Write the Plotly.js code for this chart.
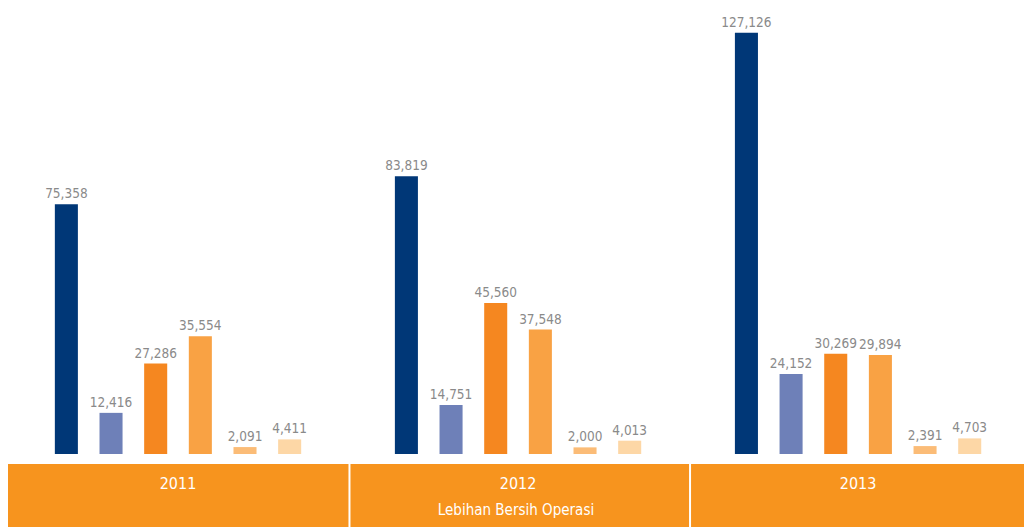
<!DOCTYPE html>
<html>
<head>
<meta charset="utf-8">
<script src="https://cdn.plot.ly/plotly-3.0.1.min.js"></script>
<style>html,body{margin:0;padding:0;background:#fff;}#chart{width:1024px;height:527px;}</style>
</head>
<body>
<div id="chart"></div>
<script>
const years = ['2011', '2012', '2013'];
const series1 = [75358, 83819, 127126];
const series2 = [12416, 14751, 24152];
const series3 = [27286, 45560, 30269];
const series4 = [35554, 37548, 29894];
const series5 = [2091, 2000, 2391];
const series6 = [4411, 4013, 4703];
const axisTitle = 'Lebihan Bersih Operasi';

const colors = ['#003777', '#6e80b8', '#f58720', '#f9a244', '#fbbc77', '#fdd7a6'];
const allSeries = [series1, series2, series3, series4, series5, series6];
const FAM = '"DejaVu Sans Condensed", "Roboto", sans-serif';
const labelFont = {family: FAM, size: 13.5, color: '#8a8a8a'};

const traces = allSeries.map((vals, i) => ({
  type: 'bar',
  x: years,
  y: vals,
  marker: {color: colors[i], line: {width: 0}},
  text: vals.map(v => v.toLocaleString('en-US')),
  textposition: 'outside',
  constraintext: 'none',
  cliponaxis: false,
  textfont: labelFont,
  outsidetextfont: labelFont,
  hoverinfo: 'skip'
}));

const layout = {
  width: 1024,
  height: 527,
  margin: {l: 8, r: 0, t: 0, b: 73, pad: 0},
  paper_bgcolor: '#ffffff',
  plot_bgcolor: '#ffffff',
  showlegend: false,
  barmode: 'group',
  bargap: 0.212,
  bargroupgap: 0.484,
  font: {family: FAM},
  xaxis: {
    type: 'category',
    range: [-0.5, 2.488],
    showgrid: false,
    zeroline: false,
    showline: false,
    ticks: '',
    ticklabelstandoff: 18,
    tickfont: {family: FAM, size: 16, color: '#ffffff'},
    title: {text: axisTitle, standoff: 12, font: {family: FAM, size: 15, color: '#ffffff'}}
  },
  yaxis: {
    range: [0, 137000],
    visible: false,
    showgrid: false,
    zeroline: false
  },
  shapes: [
    {type: 'rect', xref: 'paper', yref: 'paper', x0: 0, x1: 1, y0: -0.161, y1: -0.022, fillcolor: '#f7941e', line: {width: 0}, layer: 'below'},
    {type: 'line', xref: 'paper', yref: 'paper', x0: 0.3361, x1: 0.3361, y0: -0.161, y1: -0.022, line: {color: '#ffffff', width: 2}},
    {type: 'line', xref: 'paper', yref: 'paper', x0: 0.6713, x1: 0.6713, y0: -0.161, y1: -0.022, line: {color: '#ffffff', width: 2}}
  ]
};

Plotly.newPlot('chart', traces, layout, {staticPlot: true, displayModeBar: false});
</script>
</body>
</html>
